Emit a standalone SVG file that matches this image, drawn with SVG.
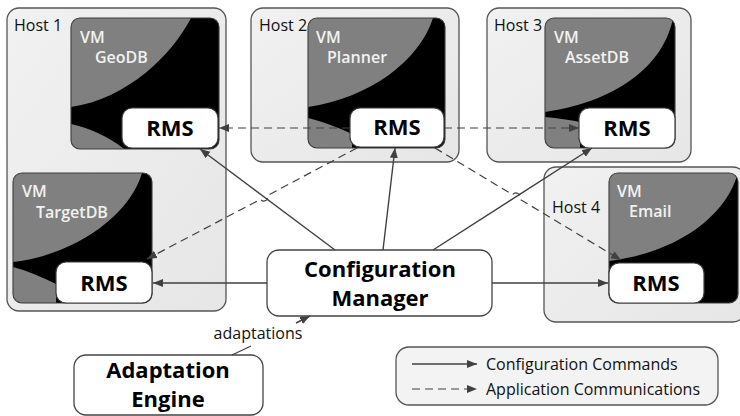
<svg xmlns="http://www.w3.org/2000/svg" width="740" height="416" viewBox="0 0 740 416">
  <style>
    .host { fill: url(#hostFill); stroke: #555555; stroke-width: 1.3; }
    .host-label { font-family: "Open Sans", "Liberation Sans", sans-serif; font-size: 16px; fill: #111111; }
    .vm { fill: #808080; stroke: none; }
    .vm-edge { fill: none; stroke: #3c3c3c; stroke-width: 1.1; }
    .vm-shade { fill: #000000; }
    .vm-label { font-family: "Open Sans", "Liberation Sans", sans-serif; font-size: 16px; font-weight: 600; fill: #f2f2f2; }
    .rms { fill: #ffffff; stroke: #3c3c3c; stroke-width: 1.2; }
    .rms-label { font-family: "Open Sans", "Liberation Sans", sans-serif; font-size: 22px; font-weight: 700; fill: #000000; text-anchor: middle; }
    .box { fill: #ffffff; stroke: #444444; stroke-width: 1.3; }
    .box-label { font-family: "Open Sans", "Liberation Sans", sans-serif; font-size: 22px; font-weight: 700; fill: #000000; text-anchor: middle; }
    .cmd { fill: none; stroke: #404040; stroke-width: 1.4; marker-end: url(#arrow); }
    .app { fill: none; stroke: #404040; stroke-width: 1.2; stroke-dasharray: 8 5; marker-end: url(#arrow); }
    .small { font-family: "Open Sans", "Liberation Sans", sans-serif; font-size: 16px; fill: #111111; }
    .legend { fill: #f3f3f3; stroke: #555555; stroke-width: 1.3; }
  </style>
  <defs>
    <linearGradient id="hostFill" x1="0" y1="0" x2="1" y2="1">
      <stop offset="0" stop-color="#f1f1f1"/>
      <stop offset="1" stop-color="#e6e6e6"/>
    </linearGradient>
    <marker id="arrow" markerUnits="userSpaceOnUse" markerWidth="11" markerHeight="9" refX="10" refY="4" orient="auto">
      <path d="M0,0 L10,4 L0,8 Z" fill="#404040" stroke="none"/>
    </marker>
    <clipPath id="clipGeo"><rect x="71" y="18" width="148" height="131" rx="9"/></clipPath>
    <clipPath id="clipPlan"><rect x="308" y="18" width="137" height="130" rx="9"/></clipPath>
    <clipPath id="clipAsset"><rect x="545" y="18" width="130" height="130" rx="9"/></clipPath>
    <clipPath id="clipTarget"><rect x="13" y="173" width="139" height="130" rx="9"/></clipPath>
    <clipPath id="clipEmail"><rect x="609" y="173" width="129" height="130" rx="9"/></clipPath>
  </defs>

  <rect width="740" height="416" fill="#ffffff"/>

  <!-- Host 1 with the GeoDB and TargetDB virtual machines -->
  <g id="host1">
    <rect class="host" x="7" y="8" width="219" height="303" rx="12"/>
    <text class="host-label" x="14" y="31">Host 1</text>
  </g>
  <g id="vm-geodb">
    <rect class="vm" x="71" y="18" width="148" height="131" rx="9"/>
    <path class="vm-shade" clip-path="url(#clipGeo)" d="M191,18 C172,55 127,99 71,107 L71,124 C89,128 108,136 124,149 L219,149 L219,18 Z"/>
    <rect class="vm-edge" x="71" y="18" width="148" height="131" rx="9"/>
    <text class="vm-label" x="80" y="43">VM</text>
    <text class="vm-label" x="95" y="63">GeoDB</text>
    <rect class="rms" x="122" y="108" width="96" height="40" rx="10"/>
    <text class="rms-label" x="170" y="136">RMS</text>
  </g>
  <g id="vm-targetdb">
    <rect class="vm" x="13" y="173" width="139" height="130" rx="9"/>
    <path class="vm-shade" clip-path="url(#clipTarget)" d="M142,173 C130,215 75,255 13,262 L13,267 C28,271 42,277 56,284 L56,303 L152,303 L152,173 Z"/>
    <rect class="vm-edge" x="13" y="173" width="139" height="130" rx="9"/>
    <text class="vm-label" x="22" y="197">VM</text>
    <text class="vm-label" x="36" y="218">TargetDB</text>
    <rect class="rms" x="56" y="262" width="96" height="41" rx="10"/>
    <text class="rms-label" x="104" y="291">RMS</text>
  </g>

  <!-- Host 2 with the Planner virtual machine -->
  <g id="host2">
    <rect class="host" x="251" y="8" width="208" height="154" rx="12"/>
    <text class="host-label" x="259" y="31">Host 2</text>
  </g>
  <g id="vm-planner">
    <rect class="vm" x="308" y="18" width="137" height="130" rx="9"/>
    <path class="vm-shade" clip-path="url(#clipPlan)" d="M433,18 C420,60 370,98 308,107 L308,118 C320,121 338,127 352,134 L352,148 L445,148 L445,18 Z"/>
    <rect class="vm-edge" x="308" y="18" width="137" height="130" rx="9"/>
    <text class="vm-label" x="316" y="43">VM</text>
    <text class="vm-label" x="327" y="63">Planner</text>
    <rect class="rms" x="350" y="108" width="94" height="39" rx="10"/>
    <text class="rms-label" x="397" y="135">RMS</text>
  </g>

  <!-- Host 3 with the AssetDB virtual machine -->
  <g id="host3">
    <rect class="host" x="487" y="8" width="204" height="154" rx="12"/>
    <text class="host-label" x="494" y="31">Host 3</text>
  </g>
  <g id="vm-assetdb">
    <rect class="vm" x="545" y="18" width="130" height="130" rx="9"/>
    <path class="vm-shade" clip-path="url(#clipAsset)" d="M673,18 C665,60 625,100 545,112 L545,117 C558,118 570,120 580,122 L580,148 L675,148 L675,18 Z"/>
    <rect class="vm-edge" x="545" y="18" width="130" height="130" rx="9"/>
    <text class="vm-label" x="554" y="43">VM</text>
    <text class="vm-label" x="565" y="63">AssetDB</text>
    <rect class="rms" x="579" y="108" width="96" height="40" rx="10"/>
    <text class="rms-label" x="627" y="136">RMS</text>
  </g>

  <!-- Host 4 with the Email virtual machine -->
  <g id="host4">
    <rect class="host" x="544" y="167" width="201" height="155" rx="12"/>
    <text class="host-label" x="552" y="213">Host 4</text>
  </g>
  <g id="vm-email">
    <rect class="vm" x="609" y="173" width="129" height="130" rx="9"/>
    <path class="vm-shade" clip-path="url(#clipEmail)" d="M737,176 C725,215 680,252 609,261 L609,303 L738,303 L738,173 Z"/>
    <rect class="vm-edge" x="609" y="173" width="129" height="130" rx="9"/>
    <text class="vm-label" x="617" y="197">VM</text>
    <text class="vm-label" x="629" y="217">Email</text>
    <rect class="rms" x="609" y="263" width="95" height="40" rx="10"/>
    <text class="rms-label" x="656" y="291">RMS</text>
  </g>

  <!-- Manager and adaptation engine -->
  <g id="config-manager">
    <rect class="box" x="267" y="250" width="225" height="66" rx="12"/>
    <text class="box-label" x="380" y="277">Configuration</text>
    <text class="box-label" x="380" y="306">Manager</text>
  </g>
  <g id="adaptation-engine">
    <rect class="box" x="74" y="355" width="189" height="60" rx="12"/>
    <text class="box-label" x="168" y="378">Adaptation</text>
    <text class="box-label" x="168" y="407">Engine</text>
  </g>

  <!-- Connectors: solid = configuration commands, dashed = application traffic -->
  <g id="connectors">
    <path class="cmd" d="M335,250 L200,149"/>
    <path class="cmd" d="M383,250 L395,148"/>
    <path class="cmd" d="M433,250 L592,148"/>
    <path class="cmd" d="M267,283 L153,283"/>
    <path class="cmd" d="M492,283 L608,283"/>
    <path d="M232,355 L251,346" fill="none" stroke="#404040" stroke-width="1.2"/>
    <path class="cmd" d="M296,323 L310,316"/>
    <text class="small" x="258" y="339" text-anchor="middle">adaptations</text>

    <path class="app" d="M350,128 L219,128"/>
    <path class="app" d="M444,128 L579,128"/>
    <path class="app" d="M357,148 L267.5,195.5 A4,4 0 0 1 260.5,199.3 L147,259"/>
    <path class="app" d="M435,148 L512.6,194.7 A4,4 0 0 1 519.4,198.9 L621,260"/>
  </g>

  <!-- Legend -->
  <g id="legend">
    <rect class="legend" x="396" y="347" width="322" height="58" rx="13"/>
    <path class="cmd" d="M412,364 L477,364"/>
    <path class="app" d="M412,389 L477,389"/>
    <text class="small" x="486" y="370">Configuration Commands</text>
    <text class="small" x="486" y="395">Application Communications</text>
  </g>
</svg>
